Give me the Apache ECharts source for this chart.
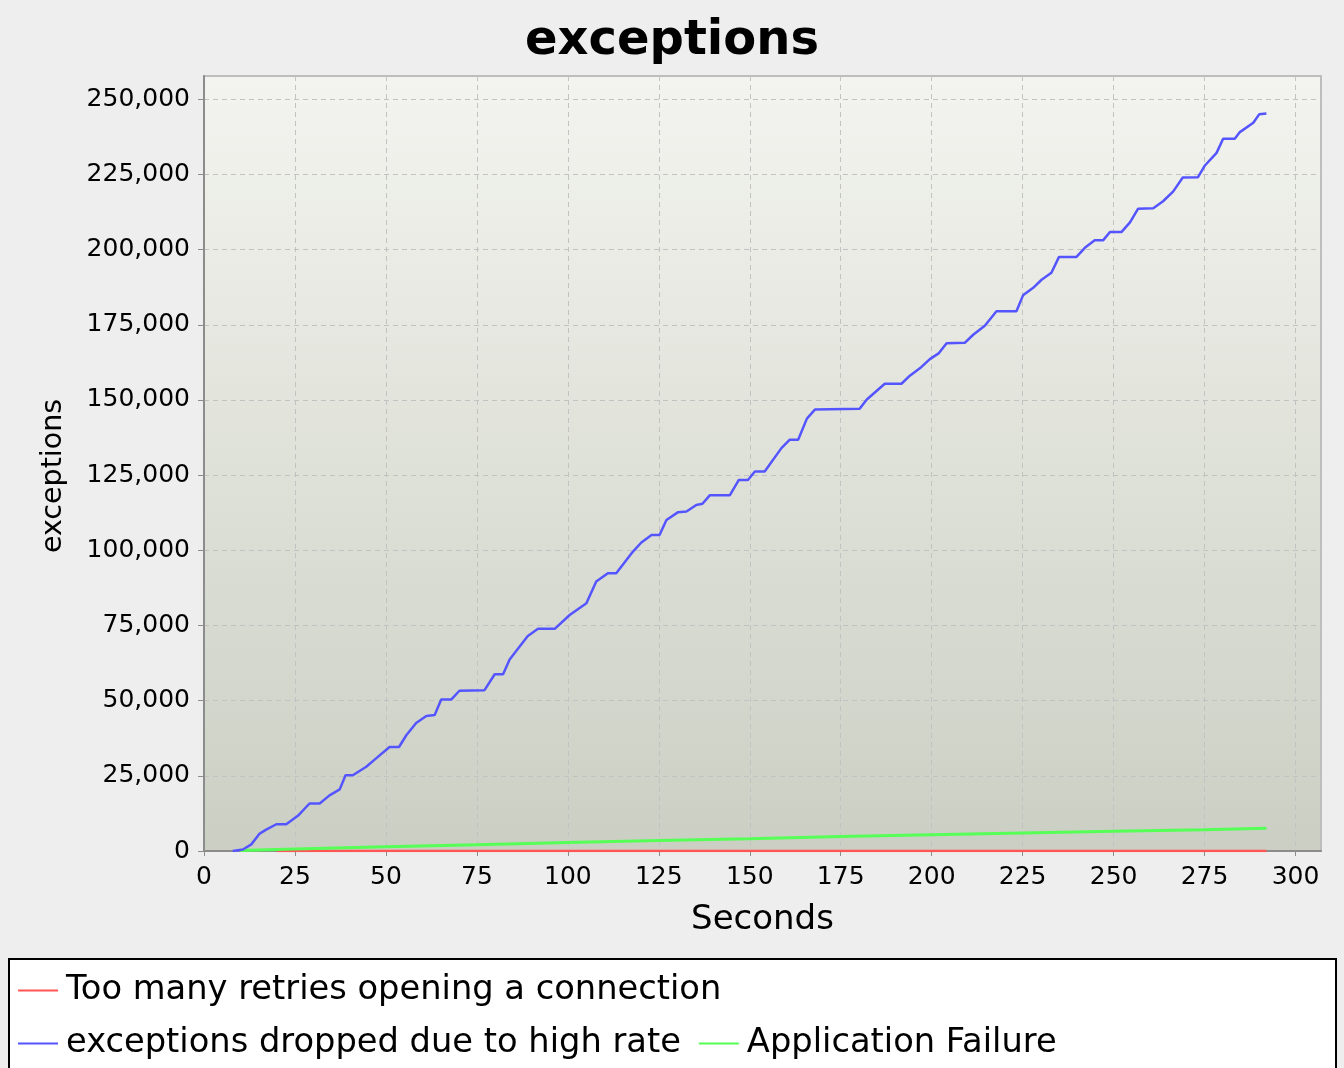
<!DOCTYPE html>
<html>
<head>
<meta charset="utf-8">
<script src="https://cdn.jsdelivr.net/npm/echarts@6/dist/echarts.min.js"></script>
<style>
  html, body { margin: 0; padding: 0; background: #eeeeee; }
  #chart { width: 1344px; height: 1068px; }
</style>
</head>
<body>
<div id="chart"></div>
<script>
// Series names (legend order)
const seriesNames = [
  'Too many retries opening a connection',
  'exceptions dropped due to high rate',
  'Application Failure'
];

// Axis tick values
const xTicks = [0, 25, 50, 75, 100, 125, 150, 175, 200, 225, 250, 275, 300];
const yTicks = [0, 25000, 50000, 75000, 100000, 125000, 150000, 175000, 200000, 225000, 250000];

// "Too many retries opening a connection" (stays at zero)
const retrySeconds = [20, 50, 100, 150, 200, 250, 292];
const retryValues  = [0, 0, 0, 0, 0, 0, 0];

// "exceptions dropped due to high rate" (cumulative count)
const droppedSeconds = [
  7.9, 10.7, 13.0, 15.3, 17.1, 19.9, 22.6, 25.8, 29.0, 31.8,
  34.5, 37.3, 38.9, 40.9, 44.6, 47.3, 51.0, 53.6, 55.6, 58.3,
  61.1, 63.4, 65.2, 68.0, 70.2, 77.1, 79.9, 82.2, 84.0, 86.7,
  89.0, 91.8, 96.4, 100.5, 105.1, 107.8, 111.0, 113.3, 117.9, 120.2,
  123.0, 125.2, 127.1, 130.3, 132.6, 135.3, 137.0, 139.0, 144.5, 147.0,
  149.5, 151.4, 154.1, 158.7, 161.0, 163.3, 165.7, 167.9, 180.2, 182.1,
  187.1, 191.7, 194.0, 197.2, 199.5, 202.0, 204.1, 209.1, 211.4, 214.6,
  217.8, 223.3, 225.1, 227.9, 230.2, 232.9, 235.0, 239.8, 242.1, 244.8,
  247.1, 249.0, 252.2, 254.5, 256.7, 260.9, 263.6, 266.4, 269.0, 273.2,
  275.1, 278.3, 280.1, 283.3, 284.7, 288.4, 290.0, 292.0
];
const droppedValues = [
  0, 500, 2200, 5800, 7100, 8900, 8900, 11700, 15800, 15800,
  18500, 20500, 25200, 25200, 28000, 30800, 34600, 34600, 38500, 42600,
  44900, 45200, 50400, 50400, 53300, 53500, 58800, 58800, 63700, 67900,
  71500, 73900, 73900, 78500, 82400, 89600, 92400, 92400, 99600, 102600,
  105100, 105100, 110100, 112700, 112900, 115100, 115500, 118300, 118300, 123400,
  123400, 126200, 126200, 134000, 136800, 136800, 143800, 146800, 147100, 150100,
  155400, 155400, 158100, 161000, 163600, 165600, 168900, 169000, 171700, 174700,
  179500, 179500, 184800, 187300, 190000, 192300, 197600, 197600, 200600, 203100,
  203100, 205900, 205900, 209100, 213600, 213800, 216100, 219400, 224000, 224100,
  228000, 232200, 236900, 236900, 239100, 242200, 245000, 245300
];

// "Application Failure" (cumulative count)
const failureSeconds = [10, 25, 50, 75, 100, 125, 150, 175, 200, 225, 250, 275, 292];
const failureValues  = [200, 700, 1400, 2100, 2800, 3500, 4100, 4800, 5400, 6000, 6600, 7100, 7600];

const pair = (xs, ys) => xs.map((x, i) => [x, ys[i]]);

const FONT = 'DejaVu Sans';
const chart = echarts.init(document.getElementById('chart'), null, { renderer: 'canvas' });

chart.setOption({
  backgroundColor: '#eeeeee',
  animation: false,
  title: {
    text: 'exceptions',
    left: 'center',
    top: 13,
    textStyle: { fontFamily: FONT, fontSize: 48, fontWeight: 'bold', color: '#000' }
  },
  graphic: [
    {
      type: 'rect',
      z: -1,
      shape: { x: 9, y: 959, width: 1327, height: 130 },
      style: { fill: '#ffffff', stroke: '#000000', lineWidth: 2 }
    },
    {
      // vertical axis title
      type: 'text',
      x: 54,
      y: 476,
      rotation: Math.PI / 2,
      style: {
        text: 'exceptions',
        font: '28.5px "DejaVu Sans"',
        fill: '#000',
        align: 'center',
        verticalAlign: 'middle'
      }
    }
  ],
  legend: {
    data: seriesNames,
    left: 18,
    top: 973,
    right: 10,
    orient: 'horizontal',
    itemWidth: 40,
    itemHeight: 2,
    itemGap: 18,
    icon: 'rect',
    padding: 0,
    textStyle: {
      fontFamily: FONT,
      fontSize: 33.7,
      color: '#000',
      lineHeight: 35,
      padding: [0, 0, 0, 3]
    }
  },
  grid: {
    left: 204,
    right: 23,
    top: 76,
    bottom: 217,
    show: true,
    borderColor: '#bdbdbd',
    borderWidth: 2,
    backgroundColor: {
      type: 'linear', x: 0, y: 0, x2: 0, y2: 1,
      colorStops: [
        { offset: 0, color: '#f3f4ef' },
        { offset: 1, color: '#cbcfc3' }
      ]
    }
  },
  xAxis: {
    type: 'value',
    min: 0,
    max: 307,
    interval: 25,
    name: 'Seconds',
    nameLocation: 'middle',
    nameGap: 52,
    nameTextStyle: { fontFamily: FONT, fontSize: 34, color: '#000' },
    axisLine: { show: true, onZero: false, lineStyle: { color: '#8c8c8c', width: 2 } },
    axisTick: { show: true, length: 5, inside: false, customValues: xTicks, lineStyle: { color: '#8c8c8c', width: 1 } },
    axisLabel: {
      fontFamily: FONT, fontSize: 25, color: '#000', margin: 14,
      formatter: v => (xTicks.indexOf(v) >= 0 ? String(v) : '')
    },
    splitLine: { show: true, lineStyle: { color: '#c2c2c2', width: 1, type: [5, 4] } }
  },
  yAxis: {
    type: 'value',
    min: 0,
    max: 257760,
    interval: 25000,
    axisLine: { show: true, onZero: false, lineStyle: { color: '#8c8c8c', width: 2 } },
    axisTick: { show: true, length: 6, inside: false, customValues: yTicks, lineStyle: { color: '#8c8c8c', width: 1 } },
    axisLabel: {
      fontFamily: FONT, fontSize: 25, color: '#000', margin: 14,
      formatter: v => (yTicks.indexOf(v) >= 0 ? v.toLocaleString('en-US') : '')
    },
    splitLine: { show: true, lineStyle: { color: '#c2c2c2', width: 1, type: [5, 4] } }
  },
  series: [
    {
      name: seriesNames[0],
      type: 'line',
      data: pair(retrySeconds, retryValues),
      showSymbol: false,
      color: '#ff5555',
      lineStyle: { color: '#ff5555', width: 2.5 },
      z: 3
    },
    {
      name: seriesNames[1],
      type: 'line',
      data: pair(droppedSeconds, droppedValues),
      showSymbol: false,
      color: '#5555ff',
      lineStyle: { color: '#5555ff', width: 2.5 },
      z: 4
    },
    {
      name: seriesNames[2],
      type: 'line',
      data: pair(failureSeconds, failureValues),
      showSymbol: false,
      color: '#55ff55',
      lineStyle: { color: '#55ff55', width: 3 },
      z: 3
    }
  ]
});
</script>
</body>
</html>
